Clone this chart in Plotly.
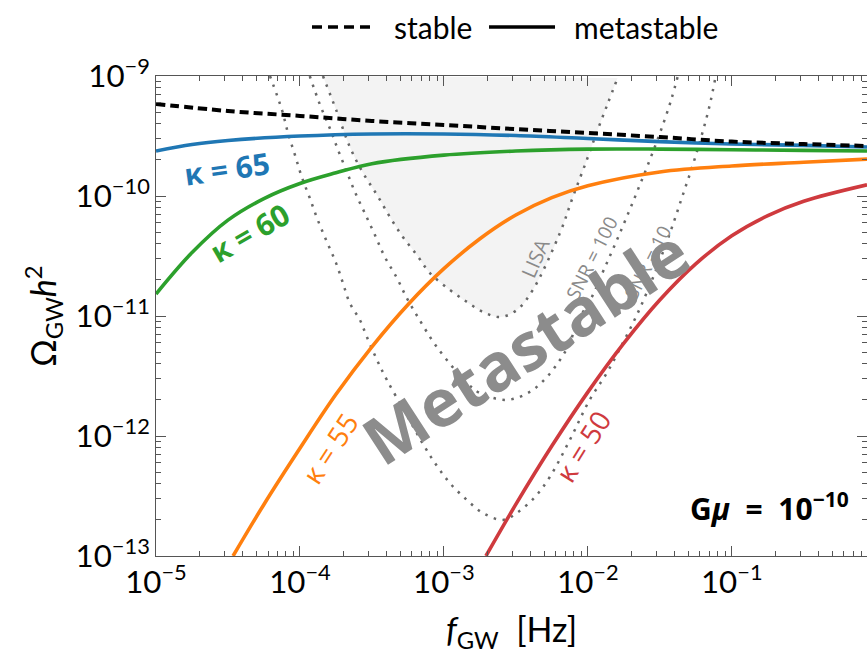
import numpy as np
import plotly.graph_objects as go

# ---------------- data ----------------
stable_f = [1e-5, 3.16e-5, 1e-4, 3.16e-4, 1e-3, 3.16e-3, 1e-2, 3.16e-2, 1e-1, 3.16e-1, 0.87]
stable_omega = [5.85e-10, 5.11e-10, 4.65e-10, 4.22e-10, 3.91e-10, 3.61e-10, 3.35e-10,
                3.10e-10, 2.84e-10, 2.71e-10, 2.61e-10]

k65_f = [1e-5, 1.78e-5, 3.16e-5, 1e-4, 3.16e-4, 1e-3, 3.16e-3, 1e-2, 3.16e-2, 1e-1, 3.16e-1, 0.87]
k65_omega = [2.37e-10, 2.69e-10, 2.90e-10, 3.16e-10, 3.29e-10, 3.29e-10, 3.19e-10, 3.01e-10,
             2.84e-10, 2.71e-10, 2.64e-10, 2.56e-10]

k60_f = [1e-5, 1.78e-5, 3.16e-5, 5.62e-5, 1e-4, 1.78e-4, 3.16e-4, 1e-3, 3.16e-3, 1e-2,
         3.16e-2, 1e-1, 3.16e-1, 0.87]
k60_omega = [1.525e-11, 3.38e-11, 6.29e-11, 9.51e-11, 1.27e-10, 1.56e-10, 1.86e-10, 2.19e-10,
             2.37e-10, 2.46e-10, 2.46e-10, 2.43e-10, 2.40e-10, 2.37e-10]

k55_f = [3.43e-5, 5.62e-5, 1e-4, 1.78e-4, 3.16e-4, 5.62e-4, 1e-3, 1.78e-3, 3.16e-3, 5.62e-3,
         1e-2, 3.16e-2, 1e-1, 3.16e-1, 0.87]
k55_omega = [1e-13, 2.69e-13, 7.90e-13, 2.225e-12, 5.54e-12, 1.242e-11, 2.48e-11, 4.40e-11,
             6.94e-11, 9.68e-11, 1.216e-10, 1.585e-10, 1.78e-10, 1.91e-10, 2.03e-10]

k50_f = [1.96e-3, 3.16e-3, 5.62e-3, 1e-2, 1.78e-2, 3.16e-2, 5.62e-2, 1e-1, 1.78e-1, 3.16e-1, 0.87]
k50_omega = [1e-13, 2.69e-13, 8.24e-13, 2.32e-12, 5.94e-12, 1.36e-11, 2.72e-11, 4.66e-11,
             6.87e-11, 9.05e-11, 1.24e-10]

lisa_f = [1.445e-4, 1.807e-4, 2.223e-4, 2.74e-4, 3.43e-4, 4.22e-4, 5.19e-4, 6.49e-4, 8.0e-4,
          1.10e-3, 1.445e-3, 1.87e-3, 2.45e-3, 3.21e-3, 4.15e-3, 6.40e-3, 7.87e-3, 9.84e-3,
          1.17e-2, 1.38e-2, 1.61e-2]
lisa_omega = [1e-9, 5.01e-10, 2.56e-10, 1.56e-10, 1.02e-10, 6.68e-11, 4.55e-11, 3.22e-11,
              2.28e-11, 1.65e-11, 1.31e-11, 1.08e-11, 9.8e-12, 1.12e-11, 1.65e-11, 4.92e-11,
              9.8e-11, 2.0e-10, 3.55e-10, 5.96e-10, 9.62e-10]

snr100_f = [1.17e-4, 1.38e-4, 1.61e-4, 1.84e-4, 2.12e-4, 2.41e-4, 2.82e-4, 3.32e-4, 3.89e-4,
            4.72e-4, 5.53e-4, 6.59e-4, 8.93e-4, 1.445e-3, 1.78e-3, 2.74e-3, 3.95e-3, 5.19e-3,
            6.40e-3, 7.50e-3, 8.39e-3, 1.067e-2, 1.29e-2, 1.56e-2, 1.90e-2, 2.30e-2, 2.78e-2,
            3.32e-2, 3.83e-2, 4.22e-2]
snr100_omega = [1e-9, 5.73e-10, 3.69e-10, 2.42e-10, 1.585e-10, 1.08e-10, 7.21e-11, 4.73e-11,
                3.10e-11, 2.07e-11, 1.41e-11, 9.82e-12, 5.52e-12, 2.77e-12, 2.28e-12, 2.0e-12,
                2.33e-12, 3.10e-12, 4.30e-12, 5.96e-12, 8.75e-12, 1.44e-11, 2.42e-11, 4.06e-11,
                7.08e-11, 1.24e-10, 2.20e-10, 3.91e-10, 6.56e-10, 1e-9]

snr10_f = [6.19e-5, 7.50e-5, 8.26e-5, 9.23e-5, 1.03e-4, 1.17e-4, 1.33e-4, 1.54e-4, 1.78e-4,
           1.99e-4, 2.22e-4, 2.61e-4, 2.92e-4, 3.43e-4, 4.02e-4, 5.36e-4, 7.03e-4, 8.66e-4,
           1.10e-3, 1.445e-3, 1.87e-3, 2.57e-3, 3.21e-3, 4.29e-3, 5.44e-3, 7.50e-3, 1.03e-2,
           1.355e-2, 1.75e-2, 2.19e-2, 2.70e-2, 3.27e-2, 3.89e-2, 4.57e-2, 5.36e-2, 6.19e-2,
           7.03e-2, 7.74e-2]
snr10_omega = [1e-9, 5.21e-10, 3.35e-10, 2.20e-10, 1.44e-10, 9.62e-11, 6.31e-11, 4.14e-11,
               2.77e-11, 1.88e-11, 1.28e-11, 9.27e-12, 6.68e-12, 4.30e-12, 2.93e-12, 1.585e-12,
               8.91e-13, 5.96e-13, 4.06e-13, 2.93e-13, 2.28e-13, 2.0e-13, 2.28e-13, 3.10e-13,
               4.55e-13, 9.27e-13, 2.0e-12, 3.35e-12, 5.96e-12, 1.02e-11, 1.81e-11, 3.22e-11,
               5.73e-11, 1.02e-10, 1.81e-10, 3.22e-10, 5.73e-10, 1e-9]

legend_names = ["stable", "metastable"]

# ---------------- styles ----------------
C_BLUE, C_GREEN, C_ORANGE, C_RED = "#1f77b4", "#2ca02c", "#ff7f0e", "#cf3a3e"
DOT = dict(color="rgba(95,95,95,0.95)", width=2.5, dash="2.5px,6.5px")
TICK_FONT = "Lato"
LABEL_FONT = "Open Sans"
GRAY_TXT = "#8a8a8a"
NB = "\u00a0"

fig = go.Figure()

fig.add_trace(go.Scatter(x=lisa_f, y=lisa_omega, mode="lines", fill="toself",
                         fillcolor="#f3f3f3", line=DOT, line_shape="spline",
                         showlegend=False, hoverinfo="skip"))
fig.add_trace(go.Scatter(x=snr100_f, y=snr100_omega, mode="lines", line=DOT,
                         line_shape="spline", showlegend=False, hoverinfo="skip"))
fig.add_trace(go.Scatter(x=snr10_f, y=snr10_omega, mode="lines", line=DOT,
                         line_shape="spline", showlegend=False, hoverinfo="skip"))

for fx, fy, col in [(k50_f, k50_omega, C_RED), (k55_f, k55_omega, C_ORANGE),
                    (k60_f, k60_omega, C_GREEN), (k65_f, k65_omega, C_BLUE)]:
    fig.add_trace(go.Scatter(x=fx, y=fy, mode="lines", line=dict(color=col, width=3.6),
                             line_shape="spline", showlegend=False))

fig.add_trace(go.Scatter(x=stable_f, y=stable_omega, mode="lines", name=legend_names[0],
                         line=dict(color="black", width=4, dash="9px,5px"),
                         line_shape="spline", showlegend=False))


def ann(text, lx, ly, angle, color, size, font=LABEL_FONT, **kw):
    fig.add_annotation(x=lx, y=ly, xref="x", yref="y", text=text, showarrow=False,
                       textangle=angle, font=dict(family=font, size=size, color=color), **kw)


ann("<b>κ = 65</b>", -4.507, -9.767, -8, C_BLUE, 30)
ann("<b>κ = 60</b>", -4.347, -10.308, -30, C_GREEN, 30)
ann("κ = 55", -3.792, -12.10, -57, C_ORANGE, 28)
ann("κ = 50", -2.035, -12.083, -58, C_RED, 28)
ann("LISA", -2.368, -10.517, -66, GRAY_TXT, 20)
ann("SNR = 100", -1.972, -10.517, -63, GRAY_TXT, 19)
ann("SNR = 10", -1.583, -10.55, -63, GRAY_TXT, 19)
ann("<b>Metastable</b>", -2.4375, -11.242, -33, "#8c8c8c", 66)
ann("<b>G<i>μ</i>" + NB * 2 + "=" + NB * 2 + "10<sup>−10</sup></b>", -0.175, -12.59, 0,
    "black", 30, xanchor="right")

# ---------------- legend (drawn above the axes) ----------------
LEG_Y = 1.102
fig.add_shape(type="line", xref="paper", yref="paper", x0=0.2194, x1=0.3094, y0=LEG_Y, y1=LEG_Y,
              line=dict(color="black", width=3.5, dash="10px,6px"))
fig.add_shape(type="line", xref="paper", yref="paper", x0=0.4684, x1=0.5612, y0=LEG_Y, y1=LEG_Y,
              line=dict(color="black", width=3.5))
for name, px in zip(legend_names, [0.3319, 0.5851]):
    fig.add_annotation(x=px, y=LEG_Y, xref="paper", yref="paper", text=name, showarrow=False,
                       xanchor="left", yanchor="middle",
                       font=dict(family=TICK_FONT, size=30, color="black"))

axis_common = dict(
    type="log", showline=True, linecolor="#555", linewidth=1.2, mirror="allticks",
    ticks="inside", ticklen=10, tickwidth=1.2, tickcolor="#555",
    showgrid=False, zeroline=False, dtick=1, exponentformat="power", showexponent="all",
    tickfont=dict(family=TICK_FONT, size=25, color="black"),
    minor=dict(ticks="inside", ticklen=5, tickwidth=1, tickcolor="#555", dtick="D1",
               showgrid=False),
)

fig.update_xaxes(**axis_common, range=[-5, np.log10(0.87)],
                 title=dict(text="<i>f</i><sub>GW</sub>  [Hz]", standoff=18,
                            font=dict(family=TICK_FONT, size=34, color="black")))
fig.update_yaxes(**axis_common, range=[-13, -9],
                 title=dict(text="Ω<sub>GW</sub><i>h</i><sup>2</sup>", standoff=8,
                            font=dict(family=TICK_FONT, size=34, color="black")))

fig.update_layout(
    width=867, height=660,
    margin=dict(l=156, r=0, t=76, b=104),
    plot_bgcolor="white", paper_bgcolor="white",
    showlegend=False,
)

fig.write_html("out.html")
